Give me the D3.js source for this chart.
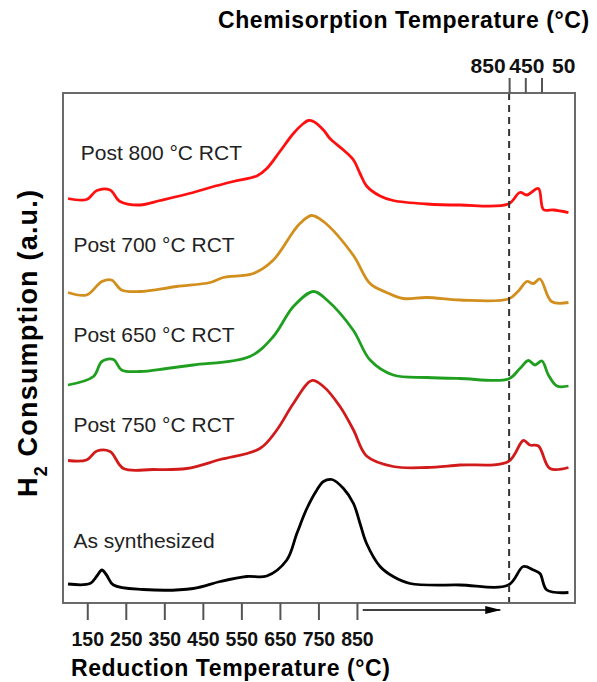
<!DOCTYPE html>
<html>
<head>
<meta charset="utf-8">
<script src="https://cdn.jsdelivr.net/npm/d3@7"></script>
<style>
  body { margin: 0; background: #fff; }
  svg text { font-family: "Liberation Sans", Arial, sans-serif; }
  .axis-title { font-weight: bold; font-size: 23px; letter-spacing: 0.6px; fill: #000; }
  .tick-label { font-weight: bold; fill: #111; }
  .curve-label { font-size: 21px; fill: #222; }
</style>
</head>
<body>
<div id="chart"></div>
<script>
// reduction temperature ticks (deg C) and chemisorption ticks
var reductionTicks = [150, 250, 350, 450, 550, 650, 750, 850];
var chemisorptionTicks = [850, 450, 50];

var seriesNames = ["Post 800 °C RCT", "Post 700 °C RCT", "Post 650 °C RCT", "Post 750 °C RCT", "As synthesized"];
var seriesColors = ["#ff1010", "#d28f1d", "#1f9f1f", "#d11a1a", "#000000"];

// [abscissa (deg C scale), H2 consumption a.u. incl. stacking offset]
var post800 = [[100,8.09],[148,8.07],[175,8.25],[209,8.26],[235,8.03],[287,7.96],[339,8.05],[425,8.21],
  [469,8.31],[529,8.43],[590,8.54],[616,8.69],[650,9.03],[685,9.39],[711,9.59],[724,9.65],[737,9.63],
  [763,9.46],[780,9.29],[815,9.06],[841,8.86],[858,8.59],[875,8.34],[910,8.14],[944,8.05],[1031,7.98],
  [1117,7.96],[1243,7.98],[1273,8.21],[1291,8.16],[1321,8.29],[1334,7.87],[1360,7.86],[1399,7.81]];
var post700 = [[100,6.21],[148,6.16],[188,6.43],[213,6.46],[239,6.26],[287,6.23],[382,6.33],[469,6.41],
  [503,6.51],[581,6.59],[633,6.86],[685,7.43],[702,7.59],[732,7.75],[763,7.63],[840,6.96],[884,6.39],
  [927,6.21],[970,6.09],[1031,6.11],[1117,6.06],[1243,6.08],[1269,6.24],[1291,6.43],[1308,6.39],
  [1325,6.48],[1355,6.03],[1399,6.01]];
var post650 = [[100,4.36],[166,4.53],[188,4.83],[218,4.87],[239,4.66],[287,4.63],[356,4.69],[425,4.76],
  [572,4.93],[633,5.33],[685,5.93],[737,6.23],[772,6.06],[840,5.46],[884,4.86],[944,4.56],[1031,4.51],
  [1117,4.49],[1243,4.48],[1273,4.69],[1295,4.85],[1312,4.76],[1330,4.84],[1347,4.56],[1369,4.34],[1399,4.34]];
var post750 = [[100,2.85],[148,2.86],[175,3.04],[209,3.03],[244,2.69],[321,2.67],[408,2.69],[495,2.87],
  [598,3.09],[642,3.46],[685,3.99],[733,4.45],[763,4.33],[806,3.93],[841,3.46],[875,2.94],[944,2.73],
  [1031,2.71],[1117,2.76],[1243,2.83],[1282,3.25],[1299,3.16],[1321,3.14],[1351,2.69],[1399,2.71]];
var asSynthesized = [[100,0.38],[157,0.39],[175,0.54],[188,0.66],[200,0.56],[218,0.36],[295,0.27],
  [425,0.29],[495,0.43],[564,0.53],[616,0.54],[668,0.86],[694,1.39],[720,1.89],[746,2.26],[763,2.43],
  [785,2.47],[815,2.29],[841,1.99],[858,1.59],[875,1.19],[910,0.73],[944,0.53],[988,0.39],[1117,0.36],
  [1243,0.36],[1282,0.73],[1308,0.66],[1325,0.59],[1343,0.26],[1399,0.21]];

var allSeries = [post800, post700, post650, post750, asSynthesized];

// label anchors, in axis units
var labelX = [133, 114, 114, 114, 114];
var labelY = [8.86, 7.03, 5.23, 3.42, 1.1];

var margin = {top: 93, right: 22, bottom: 79, left: 63};
var totalW = 597, totalH = 682;
var w = totalW - margin.left - margin.right;
var h = totalH - margin.top - margin.bottom;

var svg = d3.select("#chart").append("svg")
    .attr("width", totalW)
    .attr("height", totalH);

var g = svg.append("g").attr("transform", "translate(" + margin.left + "," + margin.top + ")");

var x = d3.scaleLinear().domain([87, 1416]).range([0, w]);
var y = d3.scaleLinear().domain([0, 10.2]).range([h, 0]);
// chemisorption temperature runs backwards on top
var xChem = d3.scaleLinear().domain([850, 50]).range([x(1245), x(1329)]);

// curves
var line = d3.line()
    .x(function(d){ return x(d[0]); })
    .y(function(d){ return y(d[1]); })
    .curve(d3.curveCatmullRom.alpha(0.5));

g.selectAll("path.trace").data(allSeries).enter().append("path")
    .attr("class", "trace")
    .attr("d", line)
    .attr("fill", "none")
    .attr("stroke", function(d, i){ return seriesColors[i]; })
    .attr("stroke-width", 2.8)
    .attr("stroke-linejoin", "round");

g.selectAll("text.curve-label").data(seriesNames).enter().append("text")
    .attr("class", "curve-label")
    .attr("x", function(d, i){ return x(labelX[i]); })
    .attr("y", function(d, i){ return y(labelY[i]); })
    .text(function(d){ return d; });

// dashed divider between reduction and chemisorption
g.append("line")
    .attr("x1", xChem(850)).attr("x2", xChem(850))
    .attr("y1", 0).attr("y2", h)
    .attr("stroke", "#333")
    .attr("stroke-width", 2)
    .attr("stroke-dasharray", "7,5");

// frame
g.append("rect")
    .attr("width", w).attr("height", h)
    .attr("fill", "none")
    .attr("stroke", "#6a6a6a")
    .attr("stroke-width", 2);

// bottom axis
var bottomAxis = d3.axisBottom(x).tickValues(reductionTicks).tickSize(17).tickPadding(12);
var bx = g.append("g").attr("transform", "translate(0," + h + ")").call(bottomAxis);
bx.select(".domain").remove();
bx.selectAll(".tick line").attr("stroke", "#555").attr("stroke-width", 2);
bx.selectAll(".tick text").attr("class", "tick-label").style("font-size", "19.5px");

// top axis: ticks on the scale, labels spread out
var topAxis = d3.axisTop(xChem).tickValues(chemisorptionTicks).tickSize(15).tickPadding(5);
var tx = g.append("g").call(topAxis);
tx.select(".domain").remove();
tx.selectAll(".tick line").attr("stroke", "#555").attr("stroke-width", 2);
tx.selectAll(".tick text")
    .attr("class", "tick-label")
    .style("font-size", "21px")
    .attr("text-anchor", function(d, i){ return i == 0 ? "end" : (i == 1 ? "middle" : "start"); })
    .attr("dx", function(d, i){ return i == 0 ? -4 : (i == 1 ? 1 : 10); });

// arrow under the chemisorption-bound part
svg.append("defs").append("marker")
    .attr("id", "head")
    .attr("markerUnits", "userSpaceOnUse")
    .attr("markerWidth", 16).attr("markerHeight", 10)
    .attr("refX", 15).attr("refY", 5)
    .attr("orient", "auto")
    .append("path")
    .attr("d", "M0,1 L16,5 L0,9 Z")
    .attr("fill", "#000");

g.append("line")
    .attr("x1", x(865)).attr("x2", x(1222))
    .attr("y1", h + 7).attr("y2", h + 7)
    .attr("stroke", "#000")
    .attr("stroke-width", 1.6)
    .attr("marker-end", "url(#head)");

// titles
svg.append("text")
    .attr("class", "axis-title")
    .attr("x", 218).attr("y", 28)
    .text("Chemisorption Temperature (°C)");

svg.append("text")
    .attr("class", "axis-title")
    .attr("x", 71).attr("y", 676)
    .text("Reduction Temperature (°C)");

var yt = svg.append("text")
    .attr("class", "axis-title")
    .attr("transform", "translate(37,497) rotate(-90)")
    .style("font-size", "27px")
    .style("letter-spacing", "1.2px");
yt.append("tspan").text("H");
yt.append("tspan").attr("baseline-shift", "sub").style("font-size", "18px").text("2");
yt.append("tspan").text(" Consumption (a.u.)");
</script>
</body>
</html>
